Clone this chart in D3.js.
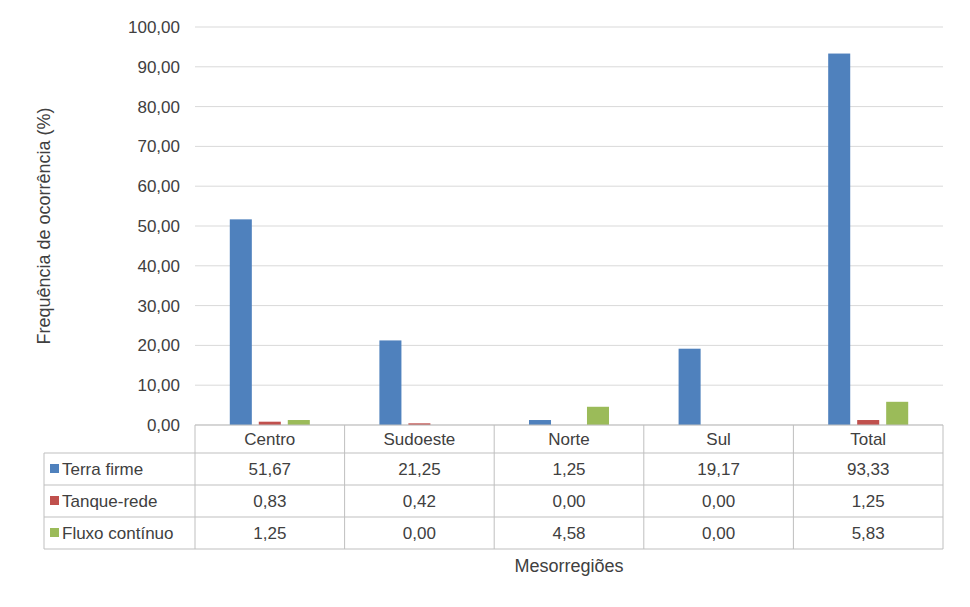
<!DOCTYPE html><html><head><meta charset="utf-8"><script src="https://cdn.jsdelivr.net/npm/d3@7"></script>
<style>body{margin:0;background:#fff}text{font-family:"Liberation Sans",Arial,sans-serif;fill:#404040}</style></head><body>
<svg id="c" width="970" height="607"></svg>
<script>
const categories=["Centro","Sudoeste","Norte","Sul","Total"];
const seriesNames=["Terra firme","Tanque-rede","Fluxo contínuo"];
const terraFirme=[51.67,21.25,1.25,19.17,93.33];
const tanqueRede=[0.83,0.42,0,0,1.25];
const fluxoContinuo=[1.25,0,4.58,0,5.83];
const yTicks=[0,10,20,30,40,50,60,70,80,90,100];
const colors=["#4F81BD","#C0504D","#9BBB59"];
const series=[terraFirme,tanqueRede,fluxoContinuo];
const fmt=v=>v.toFixed(2).replace(".",",");
const svg=d3.select("#c");
const L=195,R=943,T=27,B=425;
const x=d3.scaleBand().domain(categories).range([L,R]);
const y=d3.scaleLinear().domain([0,100]).range([B,T]);
const xs=d3.scaleBand().domain([0,1,2]).range([0,x.bandwidth()]).paddingInner(0.24).paddingOuter(1.2);
svg.append("g").selectAll("line").data(yTicks).join("line").attr("x1",L).attr("x2",R)
 .attr("y1",d=>y(d)).attr("y2",d=>y(d)).attr("stroke","#d9d9d9");
svg.append("g").selectAll("text").data(yTicks).join("text").attr("x",180).attr("y",d=>y(d)+6)
 .attr("text-anchor","end").attr("font-size",17).text(fmt);
series.forEach((s,i)=>{
 svg.append("g").selectAll("rect").data(s).join("rect").attr("x",(d,j)=>x(categories[j])+xs(i))
 .attr("width",xs.bandwidth()).attr("y",d=>y(d)).attr("height",d=>B-y(d)).attr("fill",colors[i]);
});
// table
const rows=[425,453,485,517,549];
const g=svg.append("g").attr("stroke","#bfbfbf").attr("fill","none");
g.append("line").attr("x1",L).attr("x2",R).attr("y1",B).attr("y2",B);
rows.slice(1).forEach(r=>g.append("line").attr("x1",44).attr("x2",R).attr("y1",r).attr("y2",r));
g.append("line").attr("x1",44).attr("x2",44).attr("y1",453).attr("y2",549);
categories.forEach(c=>g.append("line").attr("x1",x(c)).attr("x2",x(c)).attr("y1",B).attr("y2",549));
g.append("line").attr("x1",R).attr("x2",R).attr("y1",B).attr("y2",549);
svg.append("g").selectAll("text").data(categories).join("text").attr("x",c=>x(c)+x.bandwidth()/2)
 .attr("y",445).attr("text-anchor","middle").attr("font-size",17).text(c=>c);
series.forEach((s,i)=>{
 const cy=(rows[i+1]+rows[i+2])/2;
 svg.append("rect").attr("x",50).attr("y",cy-5).attr("width",9).attr("height",9).attr("fill",colors[i]);
 svg.append("text").attr("x",62).attr("y",cy+6).attr("font-size",17).text(seriesNames[i]);
 svg.append("g").selectAll("text").data(s).join("text").attr("x",(d,j)=>x(categories[j])+x.bandwidth()/2)
  .attr("y",cy+6).attr("text-anchor","middle").attr("font-size",17).text(fmt);
});
svg.append("text").attr("x",569).attr("y",572).attr("text-anchor","middle").attr("font-size",18).text("Mesorregiões");
svg.append("text").attr("transform","translate(50,226) rotate(-90)").attr("text-anchor","middle").attr("font-size",18).text("Frequência de ocorrência (%)");
</script></body></html>
